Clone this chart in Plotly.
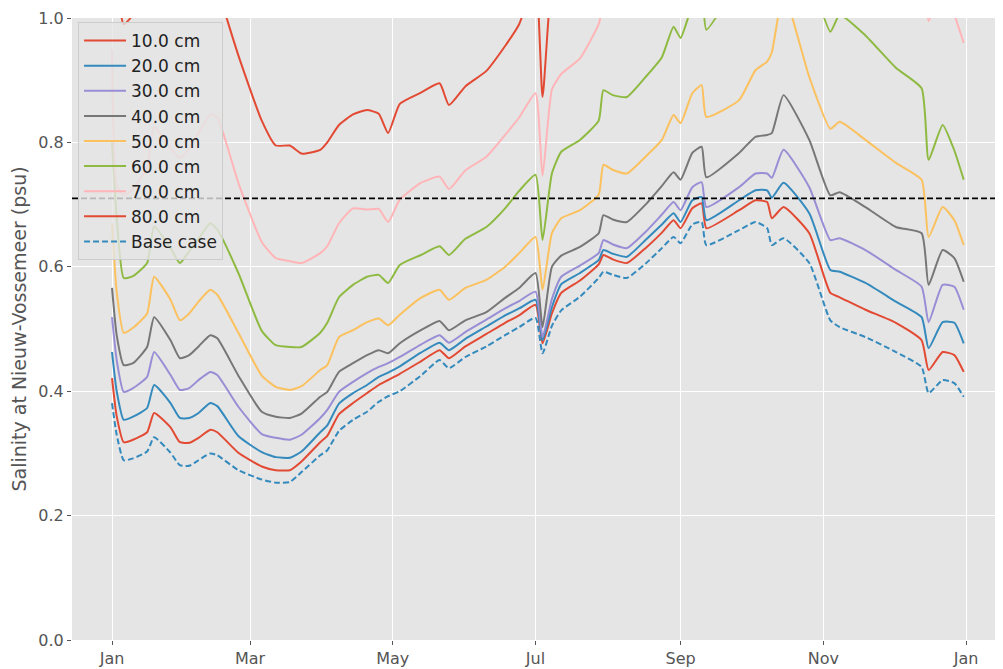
import plotly.graph_objects as go

dates = ["2019-01-01","2019-01-03","2019-01-06","2019-01-10","2019-01-16","2019-01-19","2019-01-26","2019-01-30",
         "2019-02-03","2019-02-07","2019-02-12","2019-02-15","2019-02-24",
         "2019-03-06","2019-03-12","2019-03-18","2019-03-23","2019-03-31",
         "2019-04-03","2019-04-08","2019-04-14","2019-04-20","2019-04-25","2019-04-29",
         "2019-05-04","2019-05-13","2019-05-21","2019-05-25",
         "2019-06-01","2019-06-10","2019-06-18","2019-06-24",
         "2019-07-01","2019-07-04","2019-07-08","2019-07-12","2019-07-20","2019-07-28","2019-07-30",
         "2019-08-03","2019-08-09","2019-08-17","2019-08-24","2019-08-29",
         "2019-09-01","2019-09-06","2019-09-10","2019-09-12","2019-09-26",
         "2019-10-03","2019-10-08","2019-10-10","2019-10-15","2019-10-26",
         "2019-11-04","2019-11-08","2019-11-19",
         "2019-12-02","2019-12-13","2019-12-16","2019-12-22","2019-12-27","2019-12-31"]

cm10 = [0.421,0.360,0.318,0.322,0.334,0.365,0.342,0.318,0.317,0.325,
        0.338,0.334,0.301,0.279,0.273,0.273,0.287,0.318,0.328,0.363,
        0.381,0.397,0.410,0.418,0.428,0.448,0.466,0.453,0.472,0.492,
        0.510,0.522,0.539,0.477,0.525,0.558,0.578,0.604,0.619,0.612,
        0.606,0.630,0.655,0.675,0.662,0.694,0.702,0.662,0.691,0.707,
        0.704,0.678,0.696,0.654,0.558,0.551,0.531,0.510,0.482,0.434,
        0.463,0.458,0.431]
cm20 = [0.463,0.400,0.354,0.359,0.373,0.410,0.381,0.357,0.357,0.365,
        0.381,0.376,0.328,0.302,0.294,0.293,0.303,0.334,0.345,0.380,
        0.397,0.410,0.423,0.430,0.440,0.462,0.478,0.466,0.484,0.504,
        0.522,0.533,0.547,0.482,0.535,0.572,0.590,0.611,0.627,0.621,
        0.616,0.643,0.668,0.686,0.672,0.707,0.712,0.675,0.707,0.723,
        0.723,0.711,0.735,0.686,0.595,0.592,0.574,0.544,0.519,0.469,
        0.511,0.510,0.477]
cm30 = [0.519,0.450,0.399,0.405,0.423,0.463,0.426,0.402,0.405,0.418,
        0.431,0.426,0.375,0.331,0.325,0.322,0.330,0.357,0.370,0.399,
        0.415,0.429,0.439,0.445,0.455,0.475,0.490,0.478,0.495,0.515,
        0.533,0.545,0.560,0.487,0.548,0.584,0.602,0.622,0.643,0.636,
        0.630,0.656,0.684,0.704,0.691,0.728,0.736,0.696,0.728,0.750,
        0.750,0.743,0.788,0.728,0.643,0.646,0.627,0.595,0.568,0.511,
        0.571,0.568,0.531]
cm40 = [0.566,0.490,0.442,0.445,0.471,0.519,0.482,0.453,0.458,0.472,
        0.490,0.485,0.425,0.367,0.359,0.357,0.364,0.391,0.399,0.431,
        0.445,0.458,0.466,0.461,0.477,0.498,0.513,0.498,0.514,0.527,
        0.550,0.566,0.590,0.503,0.600,0.618,0.632,0.654,0.683,0.676,
        0.672,0.700,0.730,0.752,0.740,0.783,0.793,0.744,0.783,0.809,
        0.812,0.815,0.876,0.804,0.715,0.720,0.696,0.664,0.654,0.571,
        0.627,0.614,0.576]
cm50 = [0.670,0.560,0.494,0.502,0.525,0.584,0.547,0.514,0.525,0.544,
        0.563,0.555,0.494,0.425,0.407,0.402,0.408,0.434,0.442,0.487,
        0.498,0.511,0.517,0.506,0.523,0.550,0.563,0.547,0.566,0.579,
        0.600,0.622,0.648,0.563,0.654,0.678,0.691,0.716,0.764,0.756,
        0.750,0.777,0.804,0.844,0.831,0.879,0.892,0.841,0.868,0.916,
        0.930,0.945,1.040,0.905,0.822,0.833,0.804,0.767,0.740,0.648,
        0.696,0.675,0.635]
cm60 = [0.800,0.680,0.582,0.585,0.606,0.665,0.630,0.606,0.625,0.645,
        0.670,0.660,0.590,0.497,0.474,0.471,0.471,0.494,0.510,0.551,
        0.571,0.584,0.587,0.574,0.603,0.619,0.633,0.619,0.645,0.664,
        0.694,0.722,0.748,0.643,0.750,0.785,0.804,0.835,0.884,0.876,
        0.873,0.905,0.937,0.986,0.968,1.020,1.040,0.981,1.060,1.100,
        1.120,1.120,1.160,1.070,0.978,1.005,0.972,0.920,0.887,0.772,
        0.828,0.787,0.740]
cm70 = [0.950,0.730,0.715,0.725,0.760,0.825,0.790,0.775,0.790,0.815,
        0.845,0.840,0.735,0.640,0.614,0.609,0.606,0.622,0.633,0.670,
        0.694,0.692,0.693,0.672,0.708,0.735,0.745,0.725,0.755,0.777,
        0.812,0.840,0.879,0.746,0.885,0.910,0.935,0.990,1.020,1.030,
        1.040,1.080,1.120,1.150,1.140,1.180,1.200,1.150,1.250,1.300,
        1.320,1.320,1.380,1.300,1.200,1.210,1.180,1.130,1.100,0.995,
        1.050,1.005,0.960]
cm80 = [1.250,1.060,0.990,1.005,1.040,1.100,1.070,1.040,1.050,1.070,
        1.100,1.050,0.940,0.835,0.795,0.795,0.782,0.788,0.800,0.828,
        0.845,0.852,0.846,0.815,0.862,0.880,0.895,0.860,0.890,0.915,
        0.955,0.990,1.060,0.873,1.060,1.100,1.120,1.160,1.200,1.200,
        1.200,1.240,1.280,1.330,1.320,1.370,1.390,1.340,1.420,1.470,
        1.480,1.480,1.530,1.450,1.350,1.360,1.330,1.280,1.250,1.150,
        1.200,1.170,1.120]
base_case = [0.381,0.330,0.289,0.292,0.303,0.326,0.301,0.281,0.280,0.289,
             0.300,0.297,0.273,0.258,0.253,0.254,0.270,0.297,0.305,0.336,
             0.354,0.367,0.383,0.392,0.400,0.425,0.450,0.437,0.455,0.472,
             0.490,0.503,0.518,0.461,0.505,0.530,0.552,0.582,0.592,0.587,
             0.582,0.605,0.630,0.648,0.638,0.668,0.672,0.635,0.659,0.672,
             0.662,0.635,0.646,0.606,0.514,0.503,0.487,0.463,0.439,0.397,
             0.418,0.413,0.391]

threshold = 0.71

series_names = ["10.0 cm", "20.0 cm", "30.0 cm", "40.0 cm", "50.0 cm",
                "60.0 cm", "70.0 cm", "80.0 cm"]
series_values = [cm10, cm20, cm30, cm40, cm50, cm60, cm70, cm80]
colors = ["#E24A33", "#348ABD", "#988ED5", "#777777", "#FBC15E",
          "#8EBA42", "#FFB5B8", "#E24A33"]

tick_vals = ["2019-01-01", "2019-03-01", "2019-05-01", "2019-07-01",
             "2019-09-01", "2019-11-01", "2020-01-01"]
tick_text = ["Jan", "Mar", "May", "Jul", "Sep", "Nov", "Jan"]

FONT = "DejaVu Sans"

fig = go.Figure()
for name, vals, col in zip(series_names, series_values, colors):
    fig.add_trace(go.Scatter(
        x=dates, y=vals, name=name, mode="lines",
        line=dict(color=col, width=2, shape="spline", smoothing=0.5)))
fig.add_trace(go.Scatter(
    x=dates, y=base_case, name="Base case", mode="lines",
    line=dict(color="#348ABD", width=2, dash="6px,3px", shape="spline", smoothing=0.5)))

fig.add_shape(type="line", xref="paper", x0=0, x1=1, yref="y", y0=threshold, y1=threshold,
              line=dict(color="black", width=1.8, dash="6px,3px"), layer="above")

fig.update_layout(
    width=995, height=661,
    margin=dict(l=64, r=0, t=10, b=29),
    paper_bgcolor="white",
    plot_bgcolor="#E5E5E5",
    font=dict(family=FONT, color="#555555", size=16),
    showlegend=True,
    legend=dict(
        x=0.0065, y=0.9935, xanchor="left", yanchor="top",
        bgcolor="rgba(229,229,229,0.8)", bordercolor="#CCCCCC", borderwidth=1,
        font=dict(family=FONT, size=17, color="#222222"),
        tracegroupgap=0, itemwidth=42,
    ),
    xaxis=dict(
        type="date",
        range=["2018-12-14 21:36", "2020-01-16 19:00"],
        tickvals=tick_vals, ticktext=tick_text,
        showgrid=True, gridcolor="white", gridwidth=1,
        zeroline=False, showline=False,
        ticks="outside", ticklen=4, tickcolor="#555555",
        tickfont=dict(family=FONT, size=16, color="#555555"),
    ),
    yaxis=dict(
        range=[0, 1.0],
        tickvals=[0.0, 0.2, 0.4, 0.6, 0.8, 1.0],
        tickformat=".1f",
        showgrid=True, gridcolor="white", gridwidth=1,
        zeroline=False, showline=False,
        ticks="outside", ticklen=4, tickcolor="#555555",
        tickfont=dict(family=FONT, size=16, color="#555555"),
        title=dict(text="Salinity at Nieuw-Vossemeer (psu)",
                   font=dict(family=FONT, size=19, color="#555555"), standoff=8),
    ),
)

fig.write_html("out.html")
